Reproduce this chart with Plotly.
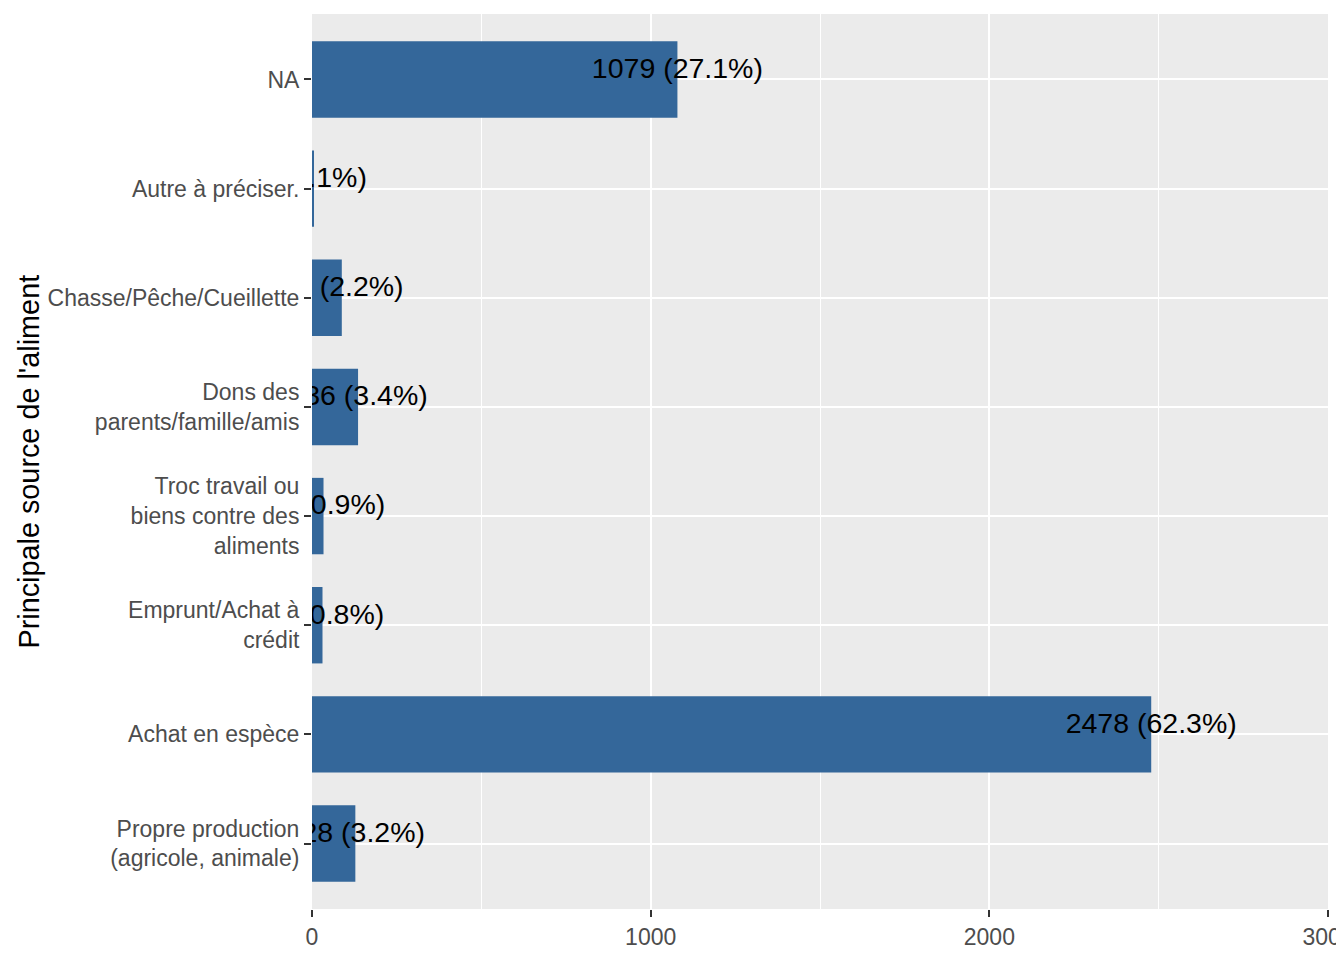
import plotly.graph_objects as go

# Categories, bottom to top
categories = [
    "Propre production<br>(agricole, animale)",
    "Achat en espèce",
    "Emprunt/Achat à<br>crédit",
    "Troc travail ou<br>biens contre des<br>aliments",
    "Dons des<br>parents/famille/amis",
    "Chasse/Pêche/Cueillette",
    "Autre à préciser.",
    "NA",
]
counts = [128, 2478, 31, 34, 136, 88, 3, 1079]
x_ticks = [0, 1000, 2000, 3000]

total = sum(counts)
labels = [f"{c} ({100 * c / total:.1f}%)" for c in counts]
pos = list(range(len(categories)))

BAR = "#34679A"
FONT = "Liberation Sans, Arial, sans-serif"

fig = go.Figure()
fig.add_trace(go.Bar(
    x=counts, y=pos, orientation="h", width=0.7,
    marker=dict(color=BAR, line=dict(width=0)),
    hoverinfo="skip", showlegend=False,
))
fig.add_trace(go.Scatter(
    x=counts, y=[p + 0.08 for p in pos], mode="text", text=labels,
    textposition="middle center",
    textfont=dict(family=FONT, size=28.5, color="black"),
    cliponaxis=True, showlegend=False, hoverinfo="skip",
))

fig.update_layout(
    width=1336, height=952,
    margin=dict(l=304, r=16, t=6, b=51),
    paper_bgcolor="white", plot_bgcolor="#EBEBEB",
    font=dict(family=FONT),
    bargap=0.3,
    xaxis=dict(
        range=[0, 3000], tickvals=x_ticks, ticktext=[str(v) for v in x_ticks],
        automargin=False,
        showgrid=True, gridcolor="white", gridwidth=2,
        minor=dict(dtick=500, tick0=0, showgrid=True, gridcolor="white", gridwidth=1, ticks=""),
        zeroline=False, showline=False,
        ticks="outside", ticklen=7, tickwidth=2, tickcolor="#333333",
        tickfont=dict(family=FONT, size=23, color="#4D4D4D"),
        ticklabeloverflow="allow",
    ),
    yaxis=dict(
        range=[-0.6, len(categories) - 0.4], tickvals=pos, ticktext=categories,
        automargin=False,
        showgrid=True, gridcolor="white", gridwidth=2,
        zeroline=False, showline=False,
        ticks="outside", ticklen=7, tickwidth=2, tickcolor="#333333",
        tickfont=dict(family=FONT, size=23, color="#4D4D4D"),
    ),
    annotations=[dict(
        text="Principale source de l'aliment", textangle=-90,
        xref="paper", yref="paper", x=(20 - 304) / 1016, y=0.5,
        xanchor="center", yanchor="middle", showarrow=False,
        font=dict(family=FONT, size=28.8, color="black"),
    )],
)

fig.write_html("out.html")
